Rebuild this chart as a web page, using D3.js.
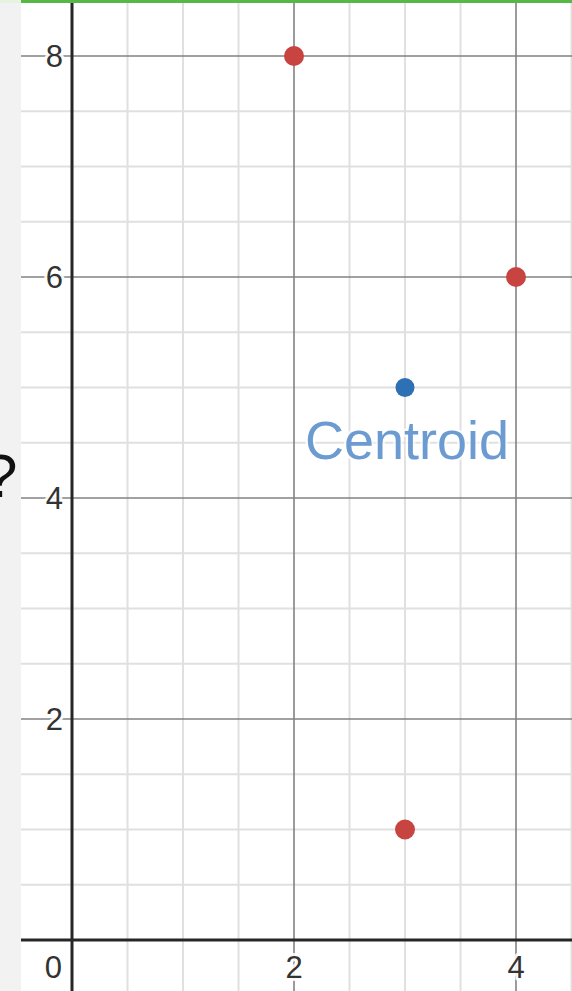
<!DOCTYPE html>
<html><head><meta charset="utf-8">
<script src="https://cdn.jsdelivr.net/npm/d3@7"></script>
<style>html,body{margin:0;padding:0;background:#fff;overflow:hidden}</style>
</head><body>
<svg id="c" width="572" height="991"></svg>
<script>
const points = [[2, 8], [4, 6], [3, 1]];
const centroid = [3, 5];
const centroidLabel = "Centroid";
const xTickValues = [0, 2, 4];
const yTickValues = [2, 4, 6, 8];
const minorStep = 0.5;

const W = 572, H = 991;
const plotLeft = 21, plotTop = 3;
const svg = d3.select("#c");

const x = d3.scaleLinear().domain([0, 4]).range([72, 516]);
const y = d3.scaleLinear().domain([0, 8]).range([940, 56]);

svg.append("rect").attr("x", 0).attr("y", 0).attr("width", W).attr("height", H).attr("fill", "#f2f2f2");
svg.append("rect").attr("x", plotLeft).attr("y", 0).attr("width", W - plotLeft).attr("height", H).attr("fill", "#fff");
svg.append("rect").attr("x", 0).attr("y", 0).attr("width", W).attr("height", 3).attr("fill", "#57b846");
svg.append("rect").attr("x", 0).attr("y", 0).attr("width", plotLeft).attr("height", 3).attr("fill", "#e6f3e0");

const xMin = x.invert(plotLeft), xMax = x.invert(W);
const yMin = y.invert(H), yMax = y.invert(plotTop);
const xMinor = d3.range(Math.ceil(xMin / minorStep) * minorStep, xMax, minorStep);
const yMinor = d3.range(Math.ceil(yMin / minorStep) * minorStep, yMax, minorStep);
const isMajor = v => Math.abs(v / 2 - Math.round(v / 2)) < 1e-6;

const grid = svg.append("g");
grid.selectAll(".vx").data(xMinor.filter(v => !isMajor(v))).join("line")
  .attr("x1", d => x(d)).attr("x2", d => x(d)).attr("y1", plotTop).attr("y2", H)
  .attr("stroke", "#e0e0e0").attr("stroke-width", 2);
grid.selectAll(".hy").data(yMinor.filter(v => !isMajor(v))).join("line")
  .attr("y1", d => y(d)).attr("y2", d => y(d)).attr("x1", plotLeft).attr("x2", W)
  .attr("stroke", "#e0e0e0").attr("stroke-width", 2);
grid.selectAll(".vxM").data(xMinor.filter(v => isMajor(v) && v !== 0)).join("line")
  .attr("x1", d => x(d)).attr("x2", d => x(d)).attr("y1", plotTop).attr("y2", H)
  .attr("stroke", "#828282").attr("stroke-width", 1.6);
grid.selectAll(".hyM").data(yMinor.filter(v => isMajor(v) && v !== 0)).join("line")
  .attr("y1", d => y(d)).attr("y2", d => y(d)).attr("x1", plotLeft).attr("x2", W)
  .attr("stroke", "#828282").attr("stroke-width", 1.6);

svg.append("line").attr("x1", plotLeft).attr("x2", W).attr("y1", y(0)).attr("y2", y(0))
  .attr("stroke", "#262626").attr("stroke-width", 3);
svg.append("line").attr("x1", x(0)).attr("x2", x(0)).attr("y1", plotTop).attr("y2", H)
  .attr("stroke", "#262626").attr("stroke-width", 3);

const font = "'Liberation Sans', Arial, sans-serif";
const labelStyle = sel => sel.attr("font-family", font).attr("font-size", 31).attr("fill", "#333")
  .attr("stroke", "#fff").attr("stroke-width", 6).attr("stroke-opacity", 0.9)
  .attr("paint-order", "stroke").attr("stroke-linejoin", "round");

svg.selectAll(".yl").data(yTickValues).join("text")
  .attr("x", x(0) - 9).attr("y", d => y(d)).attr("dy", "0.36em")
  .attr("text-anchor", "end").text(d => d).call(labelStyle);
svg.selectAll(".xl").data(xTickValues).join("text")
  .attr("x", d => d === 0 ? x(0) - 10 : x(d)).attr("y", 978)
  .attr("text-anchor", d => d === 0 ? "end" : "middle").text(d => d).call(labelStyle);

svg.selectAll(".pt").data(points).join("circle")
  .attr("cx", d => x(d[0])).attr("cy", d => y(d[1])).attr("r", 10)
  .attr("fill", "#c74440");
svg.append("circle").attr("cx", x(centroid[0])).attr("cy", y(centroid[1])).attr("r", 9.5)
  .attr("fill", "#2d70b3");
svg.append("text").attr("x", x(centroid[0]) + 2).attr("y", y(centroid[1]) + 71)
  .attr("text-anchor", "middle").attr("font-family", font).attr("font-size", 54)
  .attr("fill", "#6b9bd1").attr("stroke", "#fff").attr("stroke-width", 5).attr("stroke-opacity", 0.7)
  .attr("paint-order", "stroke").text(centroidLabel);

svg.append("text").attr("x", -17).attr("y", 497).attr("font-family", font).attr("font-size", 62)
  .attr("fill", "#111").text("?");
</script>
</body></html>
